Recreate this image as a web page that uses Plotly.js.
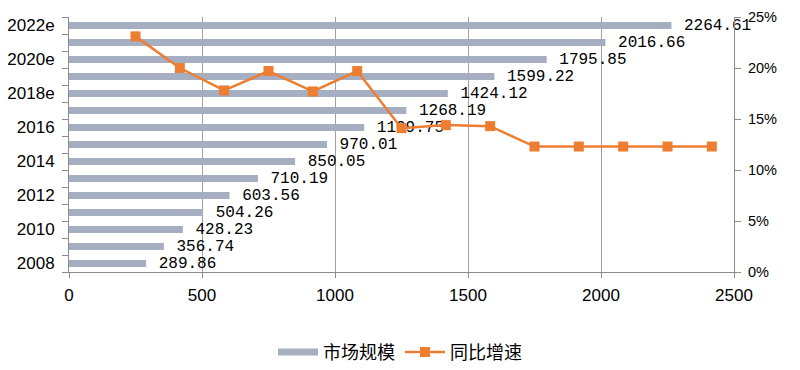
<!DOCTYPE html>
<html>
<head>
<meta charset="utf-8">
<script src="https://cdn.plot.ly/plotly-3.0.1.min.js"></script>
<style>html,body{margin:0;padding:0;background:#fff;}#chart{width:800px;height:370px;}</style>
</head>
<body>
<div id="chart"></div>
<script>
const years = ['2008','2009','2010','2011','2012','2013','2014','2015','2016','2017','2018e','2019e','2020e','2021e','2022e'];
const yearTickText = ['2008','','2010','','2012','','2014','','2016','','2018e','','2020e','','2022e'];
const marketSize = [289.86,356.74,428.23,504.26,603.56,710.19,850.05,970.01,1109.75,1268.19,1424.12,1599.22,1795.85,2016.66,2264.61];
const growthYears = ['2009','2010','2011','2012','2013','2014','2015','2016','2017','2018e','2019e','2020e','2021e','2022e'];
const growthRate = [23.1,20.0,17.8,19.7,17.7,19.7,14.1,14.4,14.3,12.3,12.3,12.3,12.3,12.3];

const barColor = '#A6AFC2';
const lineColor = '#ED7D31';

const barTrace = {
  type: 'bar', orientation: 'h',
  name: '市场规模', showlegend: false, legendgroup: 'bar',
  y: years, x: marketSize,
  marker: {color: barColor},
  texttemplate: '\u00a0%{x:.2f}',
  textposition: 'outside',
  cliponaxis: false,
  constraintext: 'none',
  textfont: {family: 'Liberation Mono, monospace', size: 16, color: '#000'},
  xaxis: 'x', yaxis: 'y',
  hoverinfo: 'skip'
};
// legend-only entry so the swatch is drawn as a wide band like the original
const barLegend = {
  type: 'scatter', mode: 'lines', name: '市场规模', legendgroup: 'bar',
  x: [null], y: [null],
  line: {color: barColor, width: 7},
  xaxis: 'x', yaxis: 'y', hoverinfo: 'skip'
};
const lineTrace = {
  type: 'scatter', mode: 'lines+markers',
  name: '同比增速',
  x: growthYears, y: growthRate,
  line: {color: lineColor, width: 2.5},
  marker: {symbol: 'square', size: 10, color: lineColor},
  xaxis: 'x2', yaxis: 'y2',
  cliponaxis: false
};

const layout = {
  width: 800, height: 370,
  margin: {l: 69, r: 66, t: 17, b: 98},
  paper_bgcolor: '#fff', plot_bgcolor: '#fff',
  bargap: 0.58,
  showlegend: true,
  legend: {orientation: 'h', x: 0.5, xanchor: 'center', xref: 'container',
           y: 0.048, yanchor: 'middle', yref: 'container',
           font: {family: 'Noto Sans CJK SC', size: 18, color: '#000'},
           itemwidth: 40, tracegroupgap: 0},
  xaxis: {
    range: [0, 2500], dtick: 500, tick0: 0,
    showgrid: true, gridcolor: '#A0A0A0', gridwidth: 1,
    zeroline: false,
    showline: true, linecolor: '#8C8C8C', linewidth: 1,
    ticks: 'outside', ticklen: 5, tickcolor: '#8C8C8C',
    tickfont: {family: 'Liberation Sans, Arial', size: 17, color: '#000'},
    ticklabelstandoff: 3
  },
  yaxis: {
    type: 'category', categoryorder: 'array', categoryarray: years,
    tickmode: 'array', tickvals: years, ticktext: yearTickText,
    tickson: 'boundaries',
    range: [-0.5, 14.5],
    showgrid: false, zeroline: false,
    showline: true, linecolor: '#8C8C8C', linewidth: 1,
    ticks: 'outside', ticklen: 6, tickcolor: '#8C8C8C',
    tickfont: {family: 'Liberation Sans, Arial', size: 17, color: '#000'},
    ticklabelstandoff: 10
  },
  xaxis2: {
    type: 'category', categoryorder: 'array', categoryarray: years,
    range: [-0.5, 14.5], overlaying: 'x', anchor: 'y2', visible: false
  },
  yaxis2: {
    range: [0, 25], dtick: 5, tick0: 0, ticksuffix: '%',
    overlaying: 'y', side: 'right', anchor: 'x',
    showgrid: false, zeroline: false,
    showline: true, linecolor: '#8C8C8C', linewidth: 1,
    ticks: 'outside', ticklen: 6, tickcolor: '#8C8C8C',
    tickfont: {family: 'Liberation Sans, Arial', size: 14.5, color: '#000'},
    ticklabelstandoff: 4
  }
};

Plotly.newPlot('chart', [barTrace, barLegend, lineTrace], layout, {displayModeBar: false, staticPlot: true});
</script>
</body>
</html>
